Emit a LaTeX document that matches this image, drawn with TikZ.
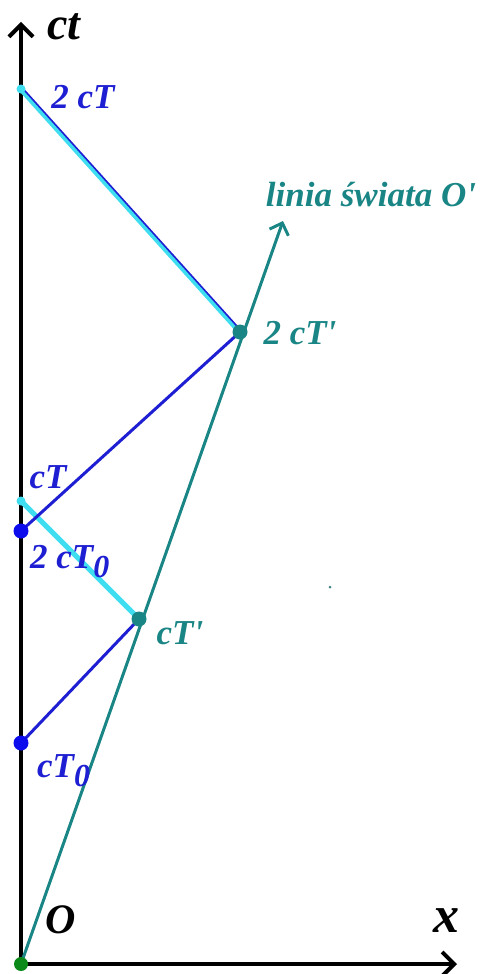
\documentclass[tikz,border=0pt]{standalone}
\usepackage{fontspec}
\setmainfont{Liberation Serif}
\usetikzlibrary{arrows.meta}
\newcommand{\subzero}{\raisebox{-9pt}{\fontsize{32}{34}\selectfont 0}}
\begin{document}
\begin{tikzpicture}[x=1pt,y=-1pt,
    lbl/.style={font=\fontsize{35}{38}\selectfont\bfseries\itshape, inner sep=0pt},
    dot/.style={circle, inner sep=0pt, minimum size=#1},
    axis/.style={line width=4.5pt, -{Straight Barb[length=12pt,width=24pt,line width=4pt]}}]
    \definecolor{tealColour}{HTML}{1A8585}
    \definecolor{blueColour}{HTML}{1E1ED2}
    \definecolor{dotBlue}{HTML}{0C0CEC}
    \definecolor{cyanColour}{HTML}{3EDDF0}
    \definecolor{greenColour}{HTML}{0B8A1A}

    \useasboundingbox (0,0) rectangle (486,974);

    % Define points
    \node[dot=14pt] (O) at (21,964) {};
    \coordinate (ctEnd) at (21,22);
    \coordinate (xEnd) at (457,964);
    \coordinate (worldEnd) at (283,221);
    \node[dot=15pt] (cTzero) at (21,743) {};
    \node[dot=15pt] (twocTzero) at (21,531) {};
    \node[dot=9pt] (cT) at (21,501) {};
    \node[dot=9pt] (twocT) at (21,89) {};
    \node[dot=15pt] (cTp) at (139,619) {};
    \node[dot=15pt] (twocTp) at (240,332) {};

    % Draw axes
    \draw[axis] (O.center) -- (ctEnd);
    \draw[axis] (O.center) -- (xEnd);

    % Draw light signals
    \draw[blueColour, line width=3pt] (cTzero.center) -- (cTp.center);
    \draw[cyanColour, line width=5pt] (cTp.center) -- (cT.center);
    \draw[blueColour, line width=3pt] (twocTzero.center) -- (twocTp.center);
    \draw[blueColour, line width=3pt] ([yshift=1.5pt]twocTp.center) -- ([yshift=1.5pt]twocT.center);
    \draw[cyanColour, line width=3.5pt] ([yshift=-1.5pt]twocTp.center) -- ([yshift=-1.5pt]twocT.center);

    % Draw world line of O'
    \draw[tealColour, line width=3pt, -{Straight Barb[length=10pt,width=20pt,line width=3pt]}] (O.center) -- (worldEnd);
    \fill[tealColour] (cTp) circle (7.5pt);
    \fill[tealColour] (twocTp) circle (7.5pt);
    \fill[greenColour] (O) circle (7pt);
    \fill[dotBlue] (cTzero) circle (7.5pt);
    \fill[dotBlue] (twocTzero) circle (7.5pt);
    \fill[cyanColour] (twocT) circle (4.5pt);
    \fill[cyanColour] (cT) circle (4.5pt);
    \fill[tealColour!60!gray] (330,587) circle (1.5pt);

    % Labels
    \node[lbl, font=\fontsize{46}{50}\selectfont\bfseries\itshape] (ctLabel) at (64,27) {ct};
    \node[lbl, font=\fontsize{52}{56}\selectfont\bfseries\itshape] (xLabel) at (446,921) {x};
    \node[lbl, font=\fontsize{42}{44}\selectfont\bfseries\itshape] (OLabel) at (61,920) {O};
    \node[lbl, blueColour] (twocTLabel) at (83,97) {2 cT};
    \node[lbl, blueColour] (cTLabel) at (48,477) {cT};
    \node[lbl, blueColour, anchor=base west] (twocTzeroLabel) at (30,568) {2 cT\subzero};
    \node[lbl, blueColour, anchor=base west] (cTzeroLabel) at (37,777) {cT\subzero};
    \node[lbl, tealColour] (twocTpLabel) at (300,333) {2 cT\textquotesingle};
    \node[lbl, tealColour] (cTpLabel) at (180,633) {cT\textquotesingle};
    \node[lbl, tealColour] (worldLabel) at (371,195) {linia świata O\textquotesingle};
\end{tikzpicture}
\end{document}
